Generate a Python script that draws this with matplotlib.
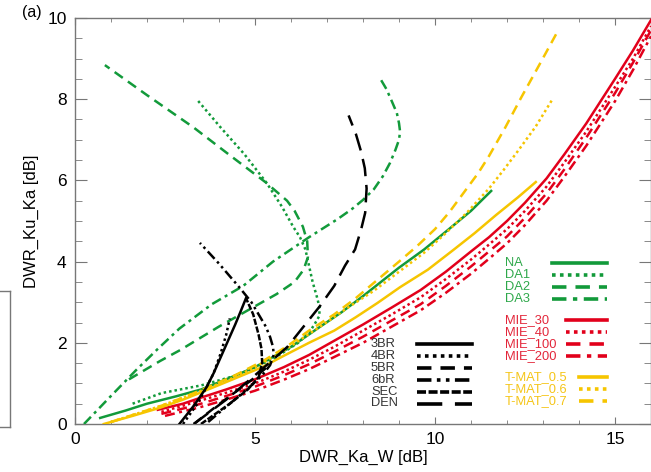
import matplotlib
matplotlib.use("Agg")
import matplotlib.pyplot as plt
from matplotlib.lines import Line2D

plt.rcParams['font.family'] = ['Liberation Sans', 'DejaVu Sans']

GREEN = '#129a3a'
RED = '#e2001b'
YELLOW = '#f6c500'
BLACK = '#000000'

# particle models (x = DWR_Ka_W, y = DWR_Ku_Ka)
na_x = [0.7, 1.4, 2.0, 2.8, 3.5, 4.2, 5.0, 5.5, 6.0, 6.8, 7.4, 8.0, 8.5, 9.0, 9.7, 10.36, 11.0, 11.56]
na_y = [0.15, 0.33, 0.5, 0.68, 0.85, 1.1, 1.4, 1.65, 1.9, 2.39, 2.75, 3.15, 3.5, 3.85, 4.3, 4.78, 5.25, 5.74]

da1_x = [1.6, 2.4, 3.5, 4.5, 5.5, 6.2, 6.5, 6.65, 6.78, 6.8, 6.72, 6.6, 6.5, 6.4, 6.25, 6.06, 5.75, 5.33, 4.7, 4.03, 3.38]
da1_y = [0.5, 0.76, 0.95, 1.2, 1.6, 2.0, 2.25, 2.45, 2.65, 2.85, 3.13, 3.5, 3.9, 4.3, 4.6, 4.86, 5.35, 5.93, 6.65, 7.32, 8.0]

da2_x = [1.5, 2.36, 2.92, 4.0, 5.0, 5.6, 6.1, 6.35, 6.47, 6.45, 6.33, 6.1, 5.89, 5.3, 4.3, 3.3, 2.0, 0.83]
da2_y = [1.1, 1.55, 1.82, 2.4, 2.9, 3.2, 3.5, 3.8, 4.11, 4.5, 4.86, 5.25, 5.5, 5.95, 6.62, 7.3, 8.1, 8.84]

da3_x = [0.25, 0.9, 1.7, 2.3, 2.9, 3.8, 4.67, 5.5, 6.5, 7.3, 7.7, 8.0, 8.3, 8.55, 8.75, 8.9, 9.0, 9.03, 9.0, 8.94, 8.8, 8.65, 8.47]
da3_y = [0.0, 0.6, 1.33, 1.85, 2.35, 2.95, 3.4, 4.0, 4.6, 5.05, 5.3, 5.52, 5.78, 6.1, 6.43, 6.75, 7.0, 7.2, 7.41, 7.66, 7.95, 8.25, 8.52]

mie30_x = [2.3, 3.0, 3.5, 4.2, 5.0, 5.8, 6.5, 7.2, 8.0, 8.8, 9.6, 10.3, 11.0, 11.5, 12.0, 12.5, 13.1, 13.6, 14.2, 14.6, 15.0, 15.5, 16.0]
mie30_y = [0.35, 0.5, 0.65, 0.85, 1.1, 1.4, 1.7, 2.05, 2.45, 2.87, 3.3, 3.75, 4.25, 4.6, 5.0, 5.45, 6.05, 6.65, 7.4, 7.95, 8.5, 9.2, 9.95]
mie40_x = [2.4, 3.0, 3.5, 4.2, 5.0, 5.8, 6.5, 7.2, 8.0, 8.8, 9.6, 10.3, 11.0, 11.5, 12.0, 12.5, 13.1, 13.6, 14.2, 14.6, 15.0, 15.5, 16.0]
mie40_y = [0.3, 0.45, 0.58, 0.77, 1.0, 1.29, 1.58, 1.9, 2.3, 2.7, 3.12, 3.57, 4.05, 4.42, 4.8, 5.25, 5.85, 6.45, 7.2, 7.75, 8.3, 9.0, 9.8]
mie100_x = [2.4, 3.0, 3.5, 4.2, 5.0, 5.8, 6.5, 7.2, 8.0, 8.8, 9.6, 10.3, 11.0, 11.5, 12.0, 12.5, 13.1, 13.6, 14.2, 14.6, 15.0, 15.5, 16.0]
mie100_y = [0.25, 0.38, 0.5, 0.69, 0.92, 1.2, 1.47, 1.78, 2.15, 2.55, 2.95, 3.4, 3.88, 4.25, 4.62, 5.08, 5.68, 6.28, 7.05, 7.6, 8.15, 8.9, 9.7]
mie200_x = [2.5, 3.0, 3.5, 4.2, 5.0, 5.8, 6.5, 7.2, 8.0, 8.8, 9.6, 10.3, 11.0, 11.5, 12.0, 12.5, 13.1, 13.6, 14.2, 14.6, 15.0, 15.5, 16.0]
mie200_y = [0.2, 0.31, 0.42, 0.6, 0.82, 1.09, 1.35, 1.65, 2.0, 2.4, 2.8, 3.23, 3.7, 4.07, 4.45, 4.9, 5.5, 6.1, 6.85, 7.4, 7.95, 8.72, 9.55]

tmat05_x = [0.8, 1.6, 2.36, 3.0, 3.56, 4.3, 5.2, 5.8, 6.5, 7.2, 7.8, 8.4, 9.03, 9.8, 10.5, 11.1, 11.7, 12.3, 12.8]
tmat05_y = [0.0, 0.2, 0.4, 0.6, 0.8, 1.07, 1.4, 1.68, 2.0, 2.3, 2.63, 2.98, 3.37, 3.8, 4.28, 4.7, 5.15, 5.58, 5.96]
tmat06_x = [1.0, 1.7, 2.4, 3.0, 3.6, 4.3, 5.0, 5.7, 6.3, 6.9, 7.5, 8.3, 9.0, 9.7, 10.3, 10.9, 11.5, 11.9, 12.3, 12.8, 13.25]
tmat06_y = [0.05, 0.25, 0.45, 0.65, 0.85, 1.1, 1.4, 1.75, 2.1, 2.45, 2.82, 3.28, 3.75, 4.22, 4.7, 5.22, 5.8, 6.25, 6.72, 7.33, 7.98]
tmat07_x = [1.0, 1.7, 2.4, 3.0, 3.6, 4.4, 5.22, 5.9, 6.5, 7.2, 7.8, 8.4, 9.0, 9.5, 10.0, 10.4, 10.8, 11.2, 11.5, 11.95, 12.4, 12.9, 13.4]
tmat07_y = [0.05, 0.25, 0.45, 0.65, 0.87, 1.18, 1.55, 1.92, 2.3, 2.7, 3.1, 3.55, 4.0, 4.38, 4.8, 5.22, 5.7, 6.18, 6.6, 7.3, 8.05, 8.85, 9.66]

br3_x = [2.9, 3.3, 3.65, 3.85, 4.05, 4.25, 4.45, 4.6, 4.75]
br3_y = [0.0, 0.45, 0.9, 1.25, 1.65, 2.05, 2.45, 2.77, 3.1]
br4_x = [3.0, 3.4, 3.65, 3.85, 4.05, 4.2, 4.3]
br4_y = [0.0, 0.5, 0.9, 1.25, 1.75, 2.2, 2.6]
br5_x = [3.3, 3.8, 4.2, 4.6, 5.0, 5.4]
br5_y = [0.0, 0.35, 0.62, 0.88, 1.15, 1.45]
br6_x = [3.7, 4.3, 4.9, 5.2, 5.42, 5.52, 5.5, 5.42, 5.3, 5.14, 4.9, 4.58, 4.0, 3.47]
br6_y = [0.05, 0.5, 0.95, 1.2, 1.45, 1.7, 1.9, 2.14, 2.4, 2.64, 3.0, 3.35, 3.95, 4.46]
sec_x = [3.5, 4.3, 4.8, 5.1, 5.2, 5.18, 5.1, 4.95, 4.75]
sec_y = [0.0, 0.5, 0.85, 1.15, 1.5, 1.85, 2.2, 2.7, 3.1]
den_x = [3.3, 4.2, 5.0, 5.9, 6.8, 7.2, 7.5, 7.78, 7.95, 8.06, 8.1, 8.05, 7.95, 7.8, 7.6]
den_y = [0.0, 0.6, 1.2, 1.9, 2.9, 3.4, 3.9, 4.3, 4.8, 5.2, 5.8, 6.3, 6.7, 7.15, 7.6]

solid = '-'
dotted = (0, (1.0, 1.2))
dashed = (0, (4, 2.5))
dashdot = (0, (4, 1.8, 1.2, 1.8))
dash3 = (0, (4, 1.5, 1, 1.5, 1, 1.5))
dense = (0, (2.5, 0.7))
longdash = (0, (7, 3.5))

groups = [
    ('green', GREEN, '#2ea84a', [
        ('NA', na_x, na_y, solid),
        ('DA1', da1_x, da1_y, dotted),
        ('DA2', da2_x, da2_y, dashed),
        ('DA3', da3_x, da3_y, dashdot),
    ]),
    ('red', RED, '#e3263a', [
        ('MIE_30', mie30_x, mie30_y, solid),
        ('MIE_40', mie40_x, mie40_y, dotted),
        ('MIE_100', mie100_x, mie100_y, dashed),
        ('MIE_200', mie200_x, mie200_y, dashdot),
    ]),
    ('yellow', YELLOW, '#f5c518', [
        ('T-MAT_0.5', tmat05_x, tmat05_y, solid),
        ('T-MAT_0.6', tmat06_x, tmat06_y, dotted),
        ('T-MAT_0.7', tmat07_x, tmat07_y, dashed),
    ]),
    ('black', BLACK, '#333333', [
        ('3BR', br3_x, br3_y, solid),
        ('4BR', br4_x, br4_y, dotted),
        ('5BR', br5_x, br5_y, dashed),
        ('6bR', br6_x, br6_y, dash3),
        ('SEC', sec_x, sec_y, dense),
        ('DEN', den_x, den_y, longdash),
    ]),
]

# legend layout in pixels of the 651x472 image: text x, line x0, x1, first row y
legend_pos = {
    'green': (505, 552, 607, 263),
    'red': (505, 566, 607, 320),
    'yellow': (505, 579, 607, 377),
    'black': (371, 417, 472, 344),
}
row_h = 11.9

fig = plt.figure(figsize=(6.51, 4.72), dpi=100)
ax = fig.add_axes([75 / 651, 48 / 472, 576 / 651, 406 / 472])


def px2ax(px, py):
    return (px - 75) / 576, (424 - py) / 406


for name, col, tcol, items in groups:
    tx, lx0, lx1, y0 = legend_pos[name]
    for i, (lab, xs, ys, ls) in enumerate(items):
        ax.plot(xs, ys, color=col, linestyle=ls, linewidth=1.8, zorder=3)
        py = y0 + i * row_h
        a0, b0 = px2ax(tx, py)
        ax.text(a0, b0, lab, color=tcol, fontsize=9.3, ha='left', va='center',
                transform=ax.transAxes)
        x0, yy = px2ax(lx0, py)
        x1, _ = px2ax(lx1, py)
        ax.plot([x0, x1], [yy, yy], color=col, linestyle=ls, linewidth=2.6,
                transform=ax.transAxes, clip_on=False)

ax.set_xlim(0, 16)
ax.set_ylim(0, 10)
ax.set_xticks([0, 5, 10, 15])
ax.set_xticks(range(0, 17), minor=True)
ax.set_yticks([0, 2, 4, 6, 8, 10])
ax.set_yticks([v * 0.5 for v in range(21)], minor=True)

ax.tick_params(axis='both', which='both', direction='in', top=True, right=True,
               color='#777777', labelsize=12.5, pad=6)
ax.tick_params(axis='x', which='major', length=5)
ax.tick_params(axis='x', which='minor', length=3)
ax.tick_params(axis='y', which='major', length=8.5)
ax.tick_params(axis='y', which='minor', length=5)
for sp in ax.spines.values():
    sp.set_color('#777777')
    sp.set_linewidth(1.0)

ax.set_xlabel('DWR_Ka_W [dB]', fontsize=12, labelpad=2)
ax.set_ylabel('DWR_Ku_Ka [dB]', fontsize=12, labelpad=6)

fig.text(22 / 651, 1 - 13 / 472, '(a)', fontsize=11.5, ha='left', va='center')

# fragment of the neighbouring panel on the left edge
fx = 10 / 651
fy0, fy1 = 1 - 291 / 472, 1 - 427 / 472
for xs, ys in [([0, fx], [fy0, fy0]), ([fx, fx], [fy0, fy1]), ([0, fx], [fy1, fy1])]:
    fig.add_artist(Line2D(xs, ys, color='#777777', linewidth=1.0))

fig.savefig('out.png', dpi=100)
